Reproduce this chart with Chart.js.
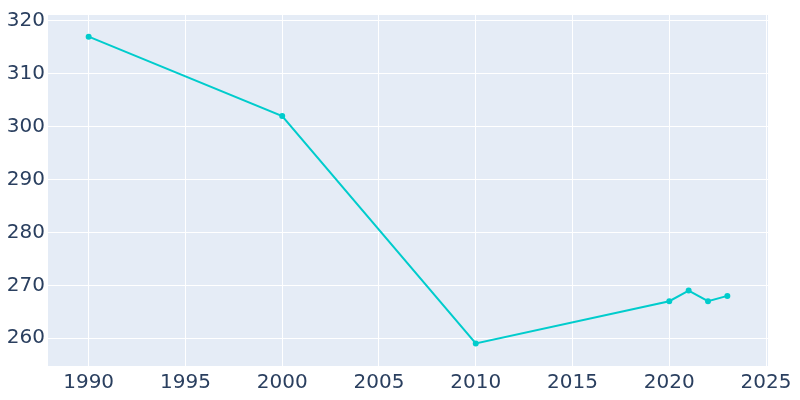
<!DOCTYPE html>
<html>
<head>
<meta charset="utf-8">
<script src="https://cdn.jsdelivr.net/npm/chart.js@4"></script>
<style>
  html, body { margin: 0; padding: 0; background: #fff; }
  #wrap { width: 800px; height: 400px; }
</style>
</head>
<body>
<div id="wrap"><canvas id="chart"></canvas></div>
<script>
  var years = [1990, 2000, 2010, 2020, 2021, 2022, 2023];
  var population = [317, 302, 259, 267, 269, 267, 268];

  var plotBg = {
    id: 'plotBg',
    beforeDraw: function (chart) {
      var a = chart.chartArea, ctx = chart.ctx;
      ctx.save();
      ctx.fillStyle = '#e5ecf6';
      ctx.fillRect(a.left, a.top, a.right - a.left, a.bottom - a.top);
      ctx.restore();
    }
  };

  var font = { family: 'DejaVu Sans', size: 20 };

  new Chart(document.getElementById('chart'), {
    type: 'line',
    data: {
      datasets: [{
        data: years.map(function (y, i) { return { x: y, y: population[i] }; }),
        borderColor: '#00cccc',
        backgroundColor: '#00cccc',
        borderWidth: 2,
        pointRadius: 2,
        pointHoverRadius: 3,
        tension: 0
      }]
    },
    options: {
      responsive: true,
      maintainAspectRatio: false,
      animation: false,
      layout: { padding: { top: 10, right: 32, left: 0, bottom: 0 } },
      plugins: { legend: { display: false }, tooltip: { enabled: false } },
      scales: {
        x: {
          type: 'linear',
          min: 1987.9,
          max: 2025.1,
          grid: { color: '#ffffff', lineWidth: 1, drawTicks: false },
          border: { display: false },
          ticks: { stepSize: 5, includeBounds: false, color: '#2a3f5f', font: font, padding: 5,
                   callback: function (v) { return String(v); } },
          afterFit: function (s) { s.height = 34; }
        },
        y: {
          min: 254.75,
          max: 321.1,
          grid: { color: '#ffffff', lineWidth: 1, drawTicks: false },
          border: { display: false },
          ticks: { stepSize: 10, includeBounds: false, color: '#2a3f5f', font: font, padding: 3 },
          afterFit: function (s) { s.width = 48; }
        }
      }
    },
    plugins: [plotBg]
  });
</script>
</body>
</html>
